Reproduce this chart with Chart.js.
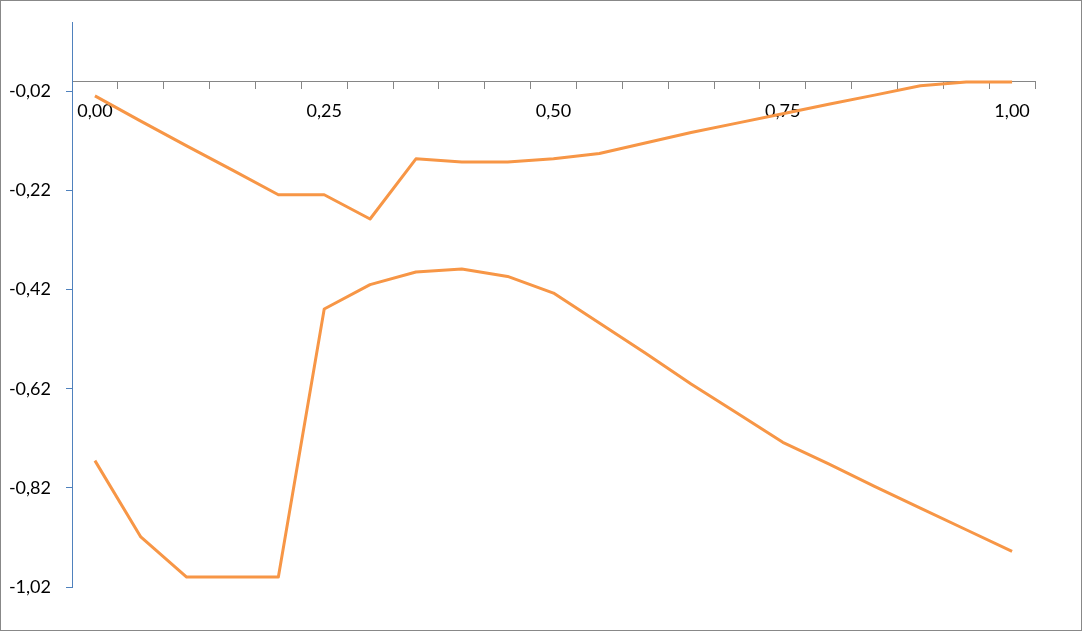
<!DOCTYPE html>
<html>
<head>
<meta charset="utf-8">
<script src="https://cdn.jsdelivr.net/npm/chart.js@4/dist/chart.umd.min.js"></script>
<style>
  html, body { margin: 0; padding: 0; background: #ffffff; }
  #wrap { width: 1083px; height: 632px; position: relative; }
</style>
</head>
<body>
<div id="wrap"><canvas id="c"></canvas></div>
<script>
// Categories (x values)
const categories = ['0,00','0,05','0,10','0,15','0,20','0,25','0,30','0,35','0,40','0,45','0,50',
                    '0,55','0,60','0,65','0,70','0,75','0,80','0,85','0,90','0,95','1,00'];
// X tick labels that are shown
const shownXLabels = ['0,00','0,25','0,50','0,75','1,00'];
// Y tick values
const yTickValues = [-1.02, -0.82, -0.62, -0.42, -0.22, -0.02];
const yMin = -1.02;
const yMax = 0.12;

// Series values
const upperSeries = [-0.029, -0.080, -0.130, -0.179, -0.2285, -0.2285, -0.2775, -0.156, -0.1625, -0.1625, -0.156,
                     -0.1455, -0.124, -0.103, -0.084, -0.065, -0.046, -0.0275, -0.0085, -0.001, -0.001];
const lowerSeries = [-0.765, -0.919, -1.000, -1.000, -1.000, -0.459, -0.410, -0.3845, -0.3785, -0.3933, -0.427,
                     -0.4875, -0.548, -0.6105, -0.669, -0.728, -0.7714, -0.817, -0.861, -0.9045, -0.948];

const lineColor = '#F79646';
const fontFamily = 'Lato, "Open Sans", "Liberation Sans", sans-serif';

const framePlugin = {
  id: 'frame',
  beforeDraw(chart) {
    const ctx = chart.ctx;
    ctx.save();
    ctx.fillStyle = '#ffffff';
    ctx.fillRect(0, 0, chart.width, chart.height);
    ctx.restore();
  },
  afterDraw(chart) {
    const ctx = chart.ctx;
    ctx.save();
    ctx.strokeStyle = '#888888';
    ctx.lineWidth = 1;
    ctx.strokeRect(0.5, 0.5, chart.width - 2, chart.height - 2);
    ctx.restore();
  }
};

new Chart(document.getElementById('c'), {
  type: 'line',
  data: {
    labels: categories,
    datasets: [
      { data: upperSeries, borderColor: lineColor, borderWidth: 3, pointRadius: 0, tension: 0,
        borderJoinStyle: 'round', fill: false },
      { data: lowerSeries, borderColor: lineColor, borderWidth: 3, pointRadius: 0, tension: 0,
        borderJoinStyle: 'round', fill: false }
    ]
  },
  options: {
    responsive: true,
    maintainAspectRatio: false,
    animation: false,
    devicePixelRatio: 1,
    layout: { padding: { left: 0, right: 48, top: 22, bottom: 45 } },
    plugins: { legend: { display: false }, tooltip: { enabled: false }, title: { display: false } },
    scales: {
      x: {
        type: 'category',
        position: { y: 0 },
        offset: true,
        afterFit(scale) { scale.height = 0; scale.paddingTop = 0; scale.paddingBottom = 0; },
        grid: { offset: true, drawOnChartArea: false, drawTicks: true, tickLength: 7, color: '#868686', lineWidth: 1 },
        border: { display: true, color: '#868686', width: 1 },
        ticks: {
          autoSkip: false, maxRotation: 0, minRotation: 0, padding: 12,
          color: '#000000', font: { family: fontFamily, size: 18 },
          callback(value, index) {
            const lbl = categories[index];
            return shownXLabels.includes(lbl) ? lbl : '';
          }
        }
      },
      y: {
        type: 'linear',
        position: 'left',
        min: yMin,
        max: yMax,
        afterFit(scale) { scale.width = 72; scale.paddingTop = 0; scale.paddingBottom = 0; },
        afterBuildTicks(scale) { scale.ticks = yTickValues.map(v => ({ value: v })); },
        grid: { drawOnChartArea: false, drawTicks: true, tickLength: 6, color: '#4F81BD', lineWidth: 1 },
        border: { display: true, color: '#4F81BD', width: 1 },
        ticks: {
          padding: 15,
          color: '#000000', font: { family: fontFamily, size: 18 },
          callback(value) { return value.toFixed(2).replace('.', ','); }
        }
      }
    }
  },
  plugins: [framePlugin]
});
</script>
</body>
</html>
